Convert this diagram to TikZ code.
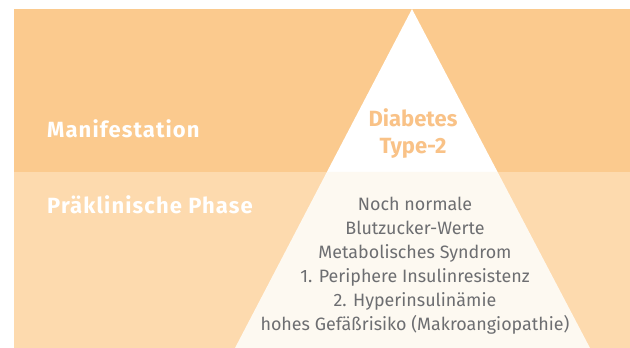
\documentclass[tikz,border=0pt]{standalone}
\usepackage{fontspec}
\setmainfont{Fira Sans}
\usetikzlibrary{calc}
\definecolor{bandtop}{HTML}{FBCA8E}
\definecolor{bandlow}{HTML}{FDDAAE}
\definecolor{cream}{HTML}{FDF9F1}
\definecolor{greytxt}{HTML}{6D6E71}
\definecolor{orangetxt}{HTML}{F9C287}
\tikzset{
  phase/.style={anchor=base west, text=white, font=\bfseries\fontsize{22}{24}\selectfont\addfontfeature{LetterSpace=5}, inner sep=0pt},
  diab/.style={anchor=base, text=orangetxt, font=\bfseries\fontsize{22}{24}\selectfont, inner sep=0pt},
  item/.style={anchor=base, text=greytxt, font=\fontsize{17.9}{24}\selectfont, inner sep=0pt}
}
\begin{document}
\begin{tikzpicture}[x=1pt,y=1pt]
\useasboundingbox (0,0) rectangle (630,348);
% bands
\fill[bandtop] (14,176) rectangle (630,339);
\fill[bandlow] (14,0) rectangle (630,176);
% pyramid
\coordinate (apex) at (412,339);
\coordinate (bl) at (235,0);
\coordinate (br) at (590,0);
\coordinate (ml) at ($(apex)!0.4808!(bl)$);
\coordinate (mr) at ($(apex)!0.4808!(br)$);
\fill[white] (apex) -- (ml) -- (mr) -- cycle;
\fill[cream] (ml) -- (bl) -- (br) -- (mr) -- cycle;
% labels
\node[phase] (man) at (47,210.3) {Manifestation};
\node[phase] (prae) at (47,134.7) {Präklinische Phase};
\node[diab] (d1) at (413,221.3) {Diabetes};
\node[diab] (d2) at (413,194.7) {Type-2};
\node[item] (i1) at (415,137) {Noch normale};
\node[item] (i2) at (415,113) {Blutzucker-Werte};
\node[item] (i3) at (415,89) {Metabolisches Syndrom};
\node[item] (i4) at (415,65) {1. Periphere Insulinresistenz};
\node[item] (i5) at (415,41) {2. Hyperinsulinämie};
\node[item] (i6) at (415,17) {hohes Gefäßrisiko (Makroangiopathie)};
\end{tikzpicture}
\end{document}
